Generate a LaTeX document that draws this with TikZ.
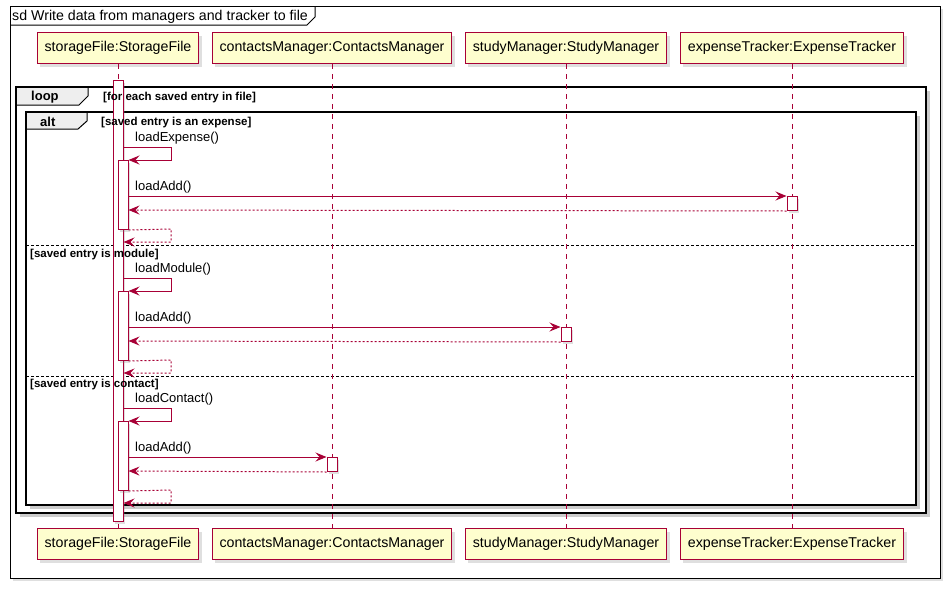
\documentclass[tikz,border=0pt]{standalone}
\usepackage{fontspec}
\setmainfont{Liberation Sans}
\usetikzlibrary{arrows.meta,shadows}
\definecolor{umlred}{HTML}{A80036}
\definecolor{umlyellow}{HTML}{FEFECE}
\definecolor{tabgray}{HTML}{EEEEEE}
\tikzset{
  part/.style={draw=umlred, fill=umlyellow, line width=1pt, minimum height=31pt,
    inner xsep=7.5pt, font=\fontsize{14.2}{16}\selectfont,
    drop shadow={shadow xshift=3pt, shadow yshift=-3pt, opacity=.25}},
  lifeline/.style={umlred, line width=1pt, dash pattern=on 5pt off 5pt},
  act/.style={draw=umlred, fill=white, line width=1pt, minimum width=10pt, inner sep=0pt,
    drop shadow={shadow xshift=2pt, shadow yshift=-2pt, opacity=.25}},
  msg/.style={umlred, line width=1pt, -{Stealth[length=11pt,width=9pt,inset=4pt]}},
  ret/.style={msg, dash pattern=on 2pt off 2pt},
  lbl/.style={font=\fontsize{13}{15}\selectfont, inner sep=0pt},
  guard/.style={font=\fontsize{11.5}{13}\selectfont\bfseries, inner sep=0pt},
  kw/.style={font=\fontsize{13}{15}\selectfont\bfseries, inner sep=0pt},
  frame/.style={fill=white, drop shadow={shadow xshift=4pt, shadow yshift=-4pt, opacity=.4}},
  frameline/.style={draw=black, line width=1.6pt},
}
\begin{document}
\begin{tikzpicture}[x=1pt,y=-1pt]
  \useasboundingbox (0,0) rectangle (950,589);
  % outer sd frame
  \draw[line width=1pt, fill=white, drop shadow={shadow xshift=3pt, shadow yshift=-3pt, opacity=.25}]
    (10,6) rectangle (940,578);
  \draw[line width=1pt] (10,25) -- (307,25) -- (315,17) -- (315,6);
  \node[lbl, font=\fontsize{14.2}{16}\selectfont, anchor=base west] (title) at (12,20)
    {sd Write data from managers and tracker to file};

  % loop and alt frames
  \path[frame] (16,87) rectangle (926,513);
  \fill[tabgray] (16,87) -- (88,87) -- (88,96) -- (79,105) -- (16,105) -- cycle;
  \draw[line width=1pt] (88,87) -- (88,96) -- (79,105) -- (16,105);
  \draw[frameline] (16,87) rectangle (926,513);
  \path[frame] (26,112) rectangle (916,505);
  \fill[tabgray] (26,112) -- (87,112) -- (87,121) -- (78,129) -- (26,129) -- cycle;
  \draw[line width=1pt] (87,112) -- (87,121) -- (78,129) -- (26,129);
  \draw[frameline] (26,112) rectangle (916,505);
  \draw[line width=.8pt, dash pattern=on 3pt off 2pt] (26,245) -- (916,245);
  \draw[line width=.8pt, dash pattern=on 3pt off 2pt] (26,376) -- (916,376);

  % participants
  \node[part] (sf-top) at (118,48) {storageFile:StorageFile};
  \node[part] (cm-top) at (332,48) {contactsManager:ContactsManager};
  \node[part] (sm-top) at (566,48) {studyManager:StudyManager};
  \node[part] (et-top) at (792,48) {expenseTracker:ExpenseTracker};
  \node[part] (sf-bot) at (118,544) {storageFile:StorageFile};
  \node[part] (cm-bot) at (332,544) {contactsManager:ContactsManager};
  \node[part] (sm-bot) at (566,544) {studyManager:StudyManager};
  \node[part] (et-bot) at (792,544) {expenseTracker:ExpenseTracker};
  \foreach \p in {sf,cm,sm,et}
    \draw[lifeline] (\p-top) -- (\p-bot);

  \node[act, minimum height=441pt, anchor=north] (sfAct) at (118,80) {};

  % frame labels
  \node[kw, anchor=base west] (loopkw) at (31,100) {loop};
  \node[guard, anchor=base west] (loopguard) at (103,100) {[for each saved entry in file]};
  \node[kw, anchor=base west] (altkw) at (40,126) {alt};
  \node[guard, anchor=base west] (guard1) at (101,125) {[saved entry is an expense]};
  \node[guard, anchor=base west] (guard2) at (30,257) {[saved entry is module]};
  \node[guard, anchor=base west] (guard3) at (30,387) {[saved entry is contact]};

  % one block per alt branch
  \foreach \k/\dy/\call/\tgt in {1/0/loadExpense/et, 2/131/loadModule/sm, 3/261/loadContact/cm} {
    \pgfmathsetmacro\ya{147+\dy}
    \pgfmathsetmacro\yb{\ya+13}
    \pgfmathsetmacro\yc{\ya+49}
    \pgfmathsetmacro\yd{\yc+14}
    \pgfmathsetmacro\ye{\yb+69}
    \pgfmathsetmacro\yf{\ye+13}
    \node[act, minimum height=69pt, anchor=north] (inner\k) at (123,\yb) {};
    \node[act, minimum height=14pt, anchor=north] (tgtact\k) at (\tgt-top.south |- 0,\yc) {};
    \node[lbl, anchor=base west] (call\k) at (135,\ya-6) {\call()};
    \node[lbl, anchor=base west] (add\k) at (135,\yc-6) {loadAdd()};
    \draw[msg] (sfAct.east |- 0,\ya) -- (171,\ya) -- (171,\yb) -- (inner\k.north east);
    \draw[msg] (inner\k.east |- 0,\yc) -- (tgtact\k.north west);
    \draw[ret] (tgtact\k.south west) -- (inner\k.east |- 0,\yd);
    \draw[ret] (inner\k.south east) -- (171,\ye) -- (171,\yf) -- (sfAct.east |- 0,\yf);
  }
\end{tikzpicture}
\end{document}
